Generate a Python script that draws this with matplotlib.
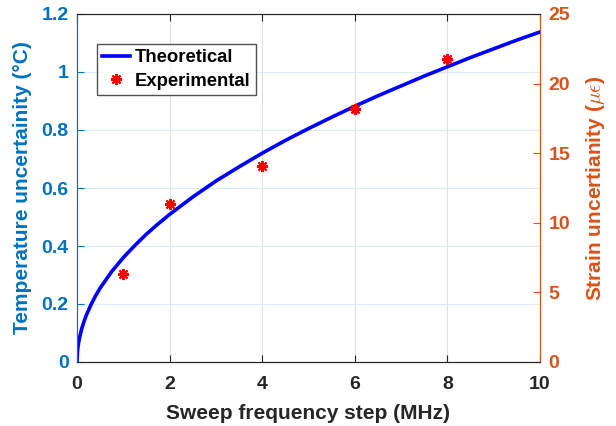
import matplotlib
matplotlib.use('Agg')
import matplotlib.pyplot as plt

# theoretical curve, values
theo_x = [0, 0.01, 0.02, 0.05, 0.1, 0.15, 0.2, 0.3, 0.4, 0.5, 0.75, 1, 1.25, 1.5, 1.75,
          2, 2.5, 3, 3.5, 4, 4.5, 5, 5.5, 6, 6.5, 7, 7.5, 8, 8.5, 9, 9.5, 10]
theo_y = [0, 0.036, 0.051, 0.080, 0.114, 0.139, 0.161, 0.197, 0.228, 0.255, 0.312,
          0.360, 0.402, 0.441, 0.476, 0.509, 0.569, 0.624, 0.673, 0.720, 0.764,
          0.805, 0.844, 0.882, 0.918, 0.952, 0.986, 1.018, 1.050, 1.080, 1.110, 1.138]

# experimental points
exp_x = [1, 2, 4, 6, 8]
exp_y = [0.302, 0.545, 0.677, 0.872, 1.046]

xticks = [0, 2, 4, 6, 8, 10]
lticks = [0, 0.2, 0.4, 0.6, 0.8, 1, 1.2]
lticklabels = ['0', '0.2', '0.4', '0.6', '0.8', '1', '1.2']
rticks = [0, 5, 10, 15, 20, 25]

blue = (0, 0.447, 0.741)
orange = (0.851, 0.325, 0.098)
dark = (0.15, 0.15, 0.15)

plt.rcParams['font.family'] = ['Liberation Sans', 'DejaVu Sans']
plt.rcParams['font.weight'] = 'bold'
plt.rcParams['mathtext.fontset'] = 'cm'

fig = plt.figure(figsize=(6.16, 4.26), dpi=100)
ax = fig.add_axes([77/616, 1 - 362/426, 463/616, 348/426])
ax2 = ax.twinx()

ax.plot(theo_x, theo_y, color=(0, 0, 1), lw=2.6, label='Theoretical', zorder=3)
ax.plot(exp_x, exp_y, ls='none', marker=(8, 2, 0), ms=8, mew=1.5,
        color=(1, 0, 0), label='Experimental', zorder=4)

ax.set_xlim(0, 10)
ax.set_ylim(0, 1.2)
ax2.set_ylim(0, 25)
ax.set_xticks(xticks)
ax.set_yticks(lticks)
ax.set_yticklabels(lticklabels)
ax2.set_yticks(rticks)

for x in xticks[1:-1]:
    ax.axvline(x, color=(0.88, 0.88, 0.9), lw=0.8, zorder=0)
for y in lticks[1:-1]:
    ax.axhline(y, color=(0.86, 0.92, 0.97), lw=0.8, zorder=0)

ax.tick_params(axis='x', direction='in', top=True, colors=dark, labelsize=14, length=5, pad=10)
ax.tick_params(axis='y', direction='in', colors=blue, labelsize=14, length=5, pad=6)
ax2.tick_params(axis='y', direction='in', colors=orange, labelsize=14, length=5, pad=6)
for lab in ax.get_xticklabels() + ax.get_yticklabels() + ax2.get_yticklabels():
    lab.set_fontweight('bold')

for a in (ax, ax2):
    a.spines['left'].set_color(blue)
    a.spines['right'].set_color(orange)
    a.spines['top'].set_color(dark)
    a.spines['bottom'].set_color(dark)

ax.set_xlabel('Sweep frequency step (MHz)', color=dark, fontsize=15, fontweight='bold', labelpad=8)
ax.set_ylabel('Temperature uncertainity (°C)', color=blue, fontsize=15, fontweight='bold', labelpad=7)
ax2.set_ylabel(r'Strain uncertianity ($\mu\epsilon$)', color=orange, fontsize=15, fontweight='bold', labelpad=10)

leg = ax.legend(loc='upper left', bbox_to_anchor=(0.043, 0.915), fontsize=13.3, frameon=True,
                fancybox=False, edgecolor=dark, handlelength=1.5, handletextpad=0.25,
                borderpad=0.3, labelspacing=0.35, borderaxespad=0)
leg.get_frame().set_linewidth(1.0)
for t in leg.get_texts():
    t.set_fontweight('bold')

fig.savefig('out.png', dpi=100)
